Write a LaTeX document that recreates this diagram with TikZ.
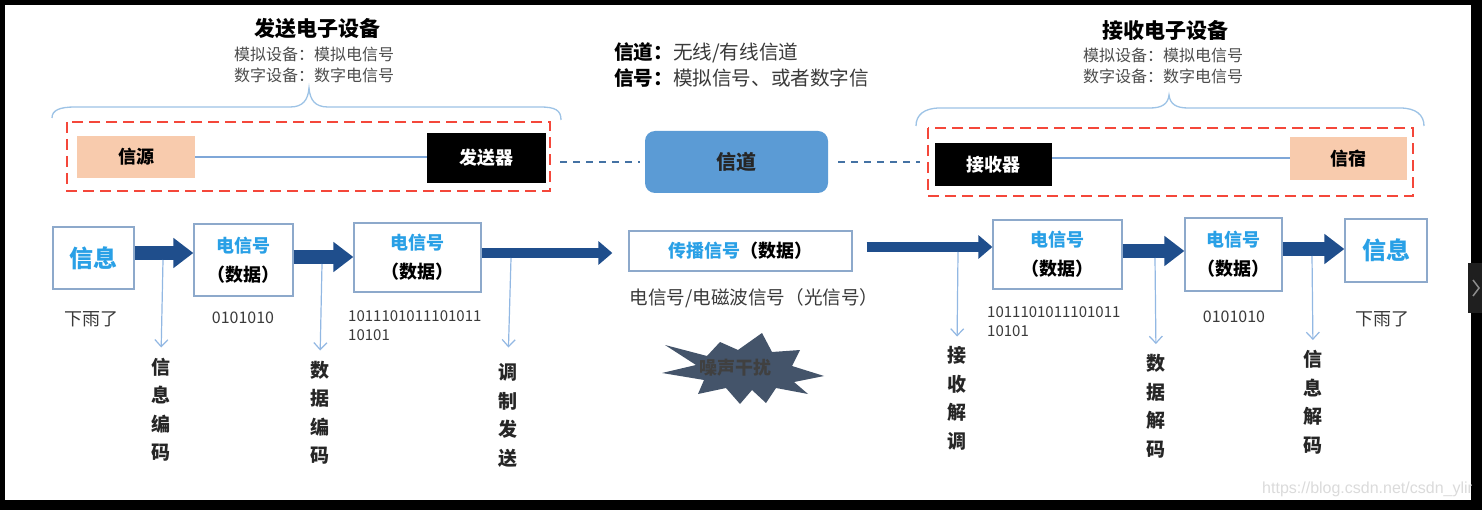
\documentclass[tikz,border=0pt]{standalone}
\usepackage{fontspec}
\setmainfont{Noto Sans CJK SC}
\newfontfamily\wmfont{Liberation Sans}
\usetikzlibrary{arrows.meta}
\definecolor{skyb}{HTML}{29A0E6}
\definecolor{navyc}{HTML}{1F4E8C}
\definecolor{boxc}{HTML}{8DA9CB}
\definecolor{thinc}{HTML}{92B8E3}
\definecolor{peach}{HTML}{F8CBAD}
\definecolor{chanc}{HTML}{5B9BD5}
\definecolor{redd}{HTML}{F4473A}
\definecolor{bracec}{HTML}{9DC3E6}
\definecolor{dashc}{HTML}{4472A4}
\definecolor{txtg}{HTML}{3A3A3A}
\definecolor{subg}{HTML}{4D4D4D}
\definecolor{burst}{HTML}{44546A}
\definecolor{linec}{HTML}{7FA7D8}
\begin{document}
\begin{tikzpicture}[x=1pt,y=-1pt,
  box/.style={draw=boxc, line width=1.3pt, fill=white, inner sep=0pt},
  fat/.style={draw=navyc, line width=14pt, -{Triangle[length=20pt,width=29pt]}},
  fatlong/.style={draw=navyc, line width=10pt, -{Triangle[length=14pt,width=23pt]}},
  thinarr/.style={draw=thinc, line width=1.2pt, -{Straight Barb[length=7pt,width=13pt]}, shorten >=10pt},
  vlab/.style={align=center, inner sep=0pt, font=\fontsize{19}{28.5}\selectfont\bfseries, text=black!85},
  note/.style={inner sep=0pt, text=txtg},
  twoline/.style={box, align=center, font=\fontsize{18}{29}\selectfont\bfseries},
  devbox/.style={inner sep=0pt, font=\fontsize{18}{22}\selectfont\bfseries},
  reddash/.style={draw=redd, line width=2.5pt, dash pattern=on 11pt off 6pt},
  bracestyle/.style={draw=bracec, line width=1.3pt},
  chandash/.style={draw=dashc, line width=1.5pt, dash pattern=on 7pt off 6pt}
]
\useasboundingbox (0,0) rectangle (1482,510);
% frame
\fill[black] (0,0) rectangle (1482,510);
\fill[white] (5,5) rectangle (1471,500);
\fill[black!88] (1468,263) rectangle (1482,313);
\draw[black!45, line width=1.5pt] (1473,280) -- (1479,288) -- (1473,296);

% ===== top: titles =====
\node[font=\fontsize{21}{25}\selectfont\bfseries, inner sep=0pt] (t1) at (317,29) {发送电子设备};
\node[font=\fontsize{16}{21}\selectfont, text=subg, align=center, inner sep=0pt] (s1) at (314,64.5) {模拟设备：模拟电信号\\数字设备：数字电信号};
\node[font=\fontsize{21}{25}\selectfont\bfseries, inner sep=0pt] (t2) at (1165,31) {接收电子设备};
\node[font=\fontsize{16}{21}\selectfont, text=subg, align=center, inner sep=0pt] (s2) at (1163,65.5) {模拟设备：模拟电信号\\数字设备：数字电信号};
\node[font=\fontsize{19.6}{26}\selectfont, text=txtg, align=left, inner sep=0pt, anchor=west] (mid) at (614,65) {\textbf{\textcolor{black}{信道：}}无线/有线信道\\\textbf{\textcolor{black}{信号：}}模拟信号、或者数字信};

% braces
\draw[bracestyle] (52,118) .. controls (52,110) and (60,107) .. (75,107) -- (290,107) .. controls (303,107) and (308,100) .. (309,88) .. controls (310,100) and (315,107) .. (328,107) -- (540,107) .. controls (555,107) and (561,110) .. (561,120);
\draw[bracestyle] (916,126) .. controls (916,115) and (924,108) .. (940,108) -- (1150,108) .. controls (1162,108) and (1168,104) .. (1169,95) .. controls (1170,104) and (1176,108) .. (1188,108) -- (1400,108) .. controls (1416,108) and (1424,115) .. (1424,126);

% red dashed groups
\draw[reddash] (67,122) rectangle (550,191);
\draw[reddash] (928,128) rectangle (1413,196);

% device boxes
\node[devbox, fill=peach, minimum width=118, minimum height=42] (src) at (136,157) {信源};
\node[devbox, fill=black, text=white, minimum width=119, minimum height=50] (tx) at (486.5,158) {发送器};
\node[devbox, fill=chanc, text=black!85, rounded corners=10pt, minimum width=183, minimum height=62, font=\fontsize{20}{24}\selectfont\bfseries] (ch) at (736.5,162) {信道};
\node[devbox, fill=black, text=white, minimum width=117, minimum height=43] (rx) at (993.5,164.5) {接收器};
\node[devbox, fill=peach, minimum width=117, minimum height=43] (sink) at (1348.5,158.5) {信宿};

\draw[linec, line width=2pt] (src.east) -- (tx.west |- src.east);
\draw[linec, line width=2pt] (sink.west) -- (sink.west -| rx.east);
\draw[chandash, shorten <=14pt, shorten >=5pt] (tx.east |- ch.west) -- (ch.west);
\draw[chandash, shorten <=10pt, shorten >=15pt] (ch.east) -- (rx.west |- ch.east);

% ===== bottom row =====
\node[box, minimum width=81, minimum height=62, font=\fontsize{24}{28}\selectfont\bfseries, text=skyb] (i1) at (93.5,258) {信息};
\node[twoline, minimum width=99, minimum height=72] (e1) at (243.5,260) {\textcolor{skyb}{电信号}\\（数据）};
\node[twoline, minimum width=127, minimum height=69] (e2) at (417.5,257.5) {\textcolor{skyb}{电信号}\\（数据）};
\node[box, minimum width=223, minimum height=40, font=\fontsize{18}{22}\selectfont\bfseries] (pr) at (740.5,251) {\textcolor{skyb}{传播信号}（数据）};
\node[twoline, minimum width=129, minimum height=69] (r1) at (1057.5,254.5) {\textcolor{skyb}{电信号}\\（数据）};
\node[twoline, minimum width=97, minimum height=73] (r2) at (1233.5,254.5) {\textcolor{skyb}{电信号}\\（数据）};
\node[box, minimum width=82, minimum height=63, font=\fontsize{24}{28}\selectfont\bfseries, text=skyb] (i2) at (1386,250.5) {信息};

% fat arrows
\draw[fat] (i1.east |- 0,253) -- (e1.west |- 0,253);
\draw[fat] (e1.east |- 0,257) -- (e2.west |- 0,257);
\draw[fatlong, shorten >=16pt] (e2.east |- 0,253) -- (pr.west |- 0,253);
\draw[fatlong, shorten <=14pt] (pr.east |- 0,247) -- (r1.west |- 0,247);
\draw[fat] (r1.east |- 0,251) -- (r2.west |- 0,251);
\draw[fat] (r2.east |- 0,249) -- (i2.west |- 0,249);

% notes under boxes
\node[note, font=\fontsize{18}{22}\selectfont] (d1) at (91,319) {下雨了};
\node[note, font=\fontsize{16}{20}\selectfont] (b1) at (243,318) {0101010};
\node[note, font=\fontsize{15}{19}\selectfont, align=left, anchor=west] (b2) at (348,325.5) {1011101011101011\\10101};
\node[note, font=\fontsize{18.6}{22}\selectfont] (pt) at (754,298) {电信号/电磁波信号（光信号）};
\node[note, font=\fontsize{15}{19}\selectfont, align=left, anchor=west] (b3) at (987,321.5) {1011101011101011\\10101};
\node[note, font=\fontsize{16}{20}\selectfont] (b4) at (1234,317) {0101010};
\node[note, font=\fontsize{18}{22}\selectfont] (d2) at (1382,319) {下雨了};

% noise burst
\fill[burst] (665,345) -- (707,356) -- (720,342) -- (738,350) -- (762,333) -- (772,352) -- (800,350) -- (792,366) -- (824,376) -- (794,382) -- (808,394) -- (776,388) -- (766,403) -- (752,390) -- (740,404) -- (726,388) -- (698,394) -- (704,380) -- (662,373) -- (696,365) -- cycle;
\node[inner sep=0pt, font=\fontsize{18}{20}\selectfont\bfseries, text=black!75] (noise) at (735,368) {噪声干扰};

% thin down arrows and vertical labels
\coordinate (a1) at (163,260);
\coordinate (a2) at (322,264);
\coordinate (a3) at (511,258);
\coordinate (a4) at (958,252);
\coordinate (a5) at (1155,258);
\coordinate (a6) at (1312,256);
\node[vlab] (L1) at (161,409.5) {信\\息\\编\\码};
\node[vlab] (L2) at (320,412.5) {数\\据\\编\\码};
\node[vlab] (L3) at (508,415.5) {调\\制\\发\\送};
\node[vlab] (L4) at (957,398.5) {接\\收\\解\\调};
\node[vlab] (L5) at (1156,406) {数\\据\\解\\码};
\node[vlab] (L6) at (1313,402) {信\\息\\解\\码};
\draw[thinarr] (a1) -- (L1.north);
\draw[thinarr] (a2) -- (L2.north);
\draw[thinarr, shorten >=16pt] (a3) -- (L3.north);
\draw[thinarr] (a4) -- (L4.north);
\draw[thinarr] (a5) -- (L5.north);
\draw[thinarr] (a6) -- (L6.north);

% watermark
\begin{scope}
\clip (5,5) rectangle (1471,500);
\node[anchor=west, inner sep=0pt, font=\wmfont\fontsize{16}{19}\selectfont, text=black!14] (wm) at (1262,489) {https://blog.csdn.net/csdn\_ylin};
\end{scope}
\end{tikzpicture}
\end{document}
